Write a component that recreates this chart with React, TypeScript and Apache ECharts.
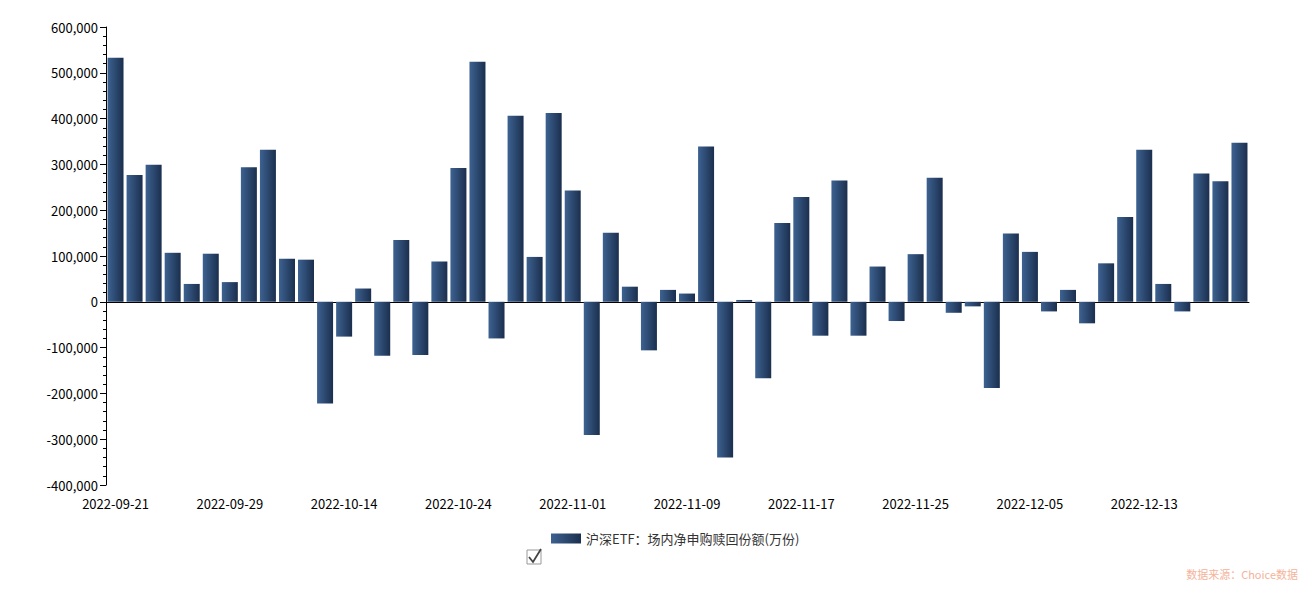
import React, { useEffect, useRef } from 'react';
import * as echarts from 'echarts';

// 交易日
const dates = [
    '2022-09-21', '2022-09-22', '2022-09-23', '2022-09-26', '2022-09-27', '2022-09-28', '2022-09-29', '2022-09-30',
    '2022-10-10', '2022-10-11', '2022-10-12', '2022-10-13', '2022-10-14', '2022-10-17', '2022-10-18', '2022-10-19',
    '2022-10-20', '2022-10-21', '2022-10-24', '2022-10-25', '2022-10-26', '2022-10-27', '2022-10-28', '2022-10-31',
    '2022-11-01', '2022-11-02', '2022-11-03', '2022-11-04', '2022-11-07', '2022-11-08', '2022-11-09', '2022-11-10',
    '2022-11-11', '2022-11-14', '2022-11-15', '2022-11-16', '2022-11-17', '2022-11-18', '2022-11-21', '2022-11-22',
    '2022-11-23', '2022-11-24', '2022-11-25', '2022-11-28', '2022-11-29', '2022-11-30', '2022-12-01', '2022-12-02',
    '2022-12-05', '2022-12-06', '2022-12-07', '2022-12-08', '2022-12-09', '2022-12-12', '2022-12-13', '2022-12-14',
    '2022-12-15', '2022-12-16', '2022-12-19', '2022-12-20',
];

// 场内净申购赎回份额(万份)
const netValues = [
    533000, 277000, 299000, 107000, 39000, 105000, 43000, 294000, 332000, 94000,
    92000, -222000, -76000, 29000, -118000, 135000, -116000, 88000, 292000, 524000,
    -80000, 406000, 98000, 412000, 243000, -291000, 151000, 33000, -106000, 26000,
    18000, 339000, -340000, 4000, -167000, 172000, 229000, -74000, 265000, -74000,
    77000, -42000, 104000, 271000, -24000, -10000, -188000, 149000, 109000, -21000,
    26000, -47000, 84000, 185000, 332000, 39000, -21000, 280000, 263000, 347000,
];

const seriesName = '沪深ETF：场内净申购赎回份额(万份)';

const App: React.FC = () => {
    const chartRef = useRef<HTMLDivElement>(null);

    useEffect(() => {
        if (!chartRef.current) return;
        const chart = echarts.init(chartRef.current, null, { renderer: 'svg' });
        const font = '"Noto Sans CJK SC", "Noto Sans", sans-serif';
        chart.setOption({
            animation: false,
            textStyle: { fontFamily: font },
            grid: { left: 98, right: 55, top: 19, bottom: 98 },
            legend: {
                bottom: 33,
                left: 538,
                itemWidth: 30,
                itemHeight: 10,
                icon: 'rect',
                textStyle: { color: '#333', fontSize: 13 },
                data: [seriesName],
            },
            graphic: [
                {
                    type: 'rect',
                    shape: { x: 519, y: 542, width: 14, height: 14 },
                    style: { fill: '#fff', stroke: '#999', lineWidth: 1 },
                },
                {
                    type: 'polyline',
                    shape: { points: [[521, 549], [525, 554], [533, 541]] },
                    style: { stroke: '#444', lineWidth: 1.8, fill: 'none' },
                },
                {
                    type: 'text',
                    right: 6,
                    bottom: 4,
                    style: { text: '数据来源：Choice数据', fill: '#f4b39a', fontSize: 11, fontFamily: font },
                },
            ],
            xAxis: {
                type: 'category',
                data: dates,
                axisLine: { lineStyle: { color: '#000' } },
                axisTick: { alignWithLabel: true, interval: 2, length: 6, lineStyle: { color: '#000' } },
                axisLabel: { interval: 5, color: '#000', fontSize: 13, margin: 12 },
            },
            yAxis: {
                type: 'value',
                min: -400000,
                max: 600000,
                interval: 100000,
                axisLine: { show: true, lineStyle: { color: '#000' } },
                axisTick: { show: true, length: 6, lineStyle: { color: '#000' } },
                minorTick: { show: true, splitNumber: 5, length: 3, lineStyle: { color: '#000' } },
                splitLine: { show: false },
                axisLabel: {
                    color: '#000',
                    fontSize: 13,
                    formatter: (v: number) => v.toLocaleString('en-US'),
                },
            },
            series: [
                {
                    name: seriesName,
                    type: 'bar',
                    barCategoryGap: '16%',
                    itemStyle: {
                        color: new echarts.graphic.LinearGradient(0, 0, 1, 0, [
                            { offset: 0, color: '#3d6291' },
                            { offset: 1, color: '#1b2f4e' },
                        ]),
                    },
                    data: netValues,
                },
            ],
        });
        return () => chart.dispose();
    }, []);

    return <div ref={chartRef} style={{ width: '1296px', height: '575px' }} />;
};

export default App;
